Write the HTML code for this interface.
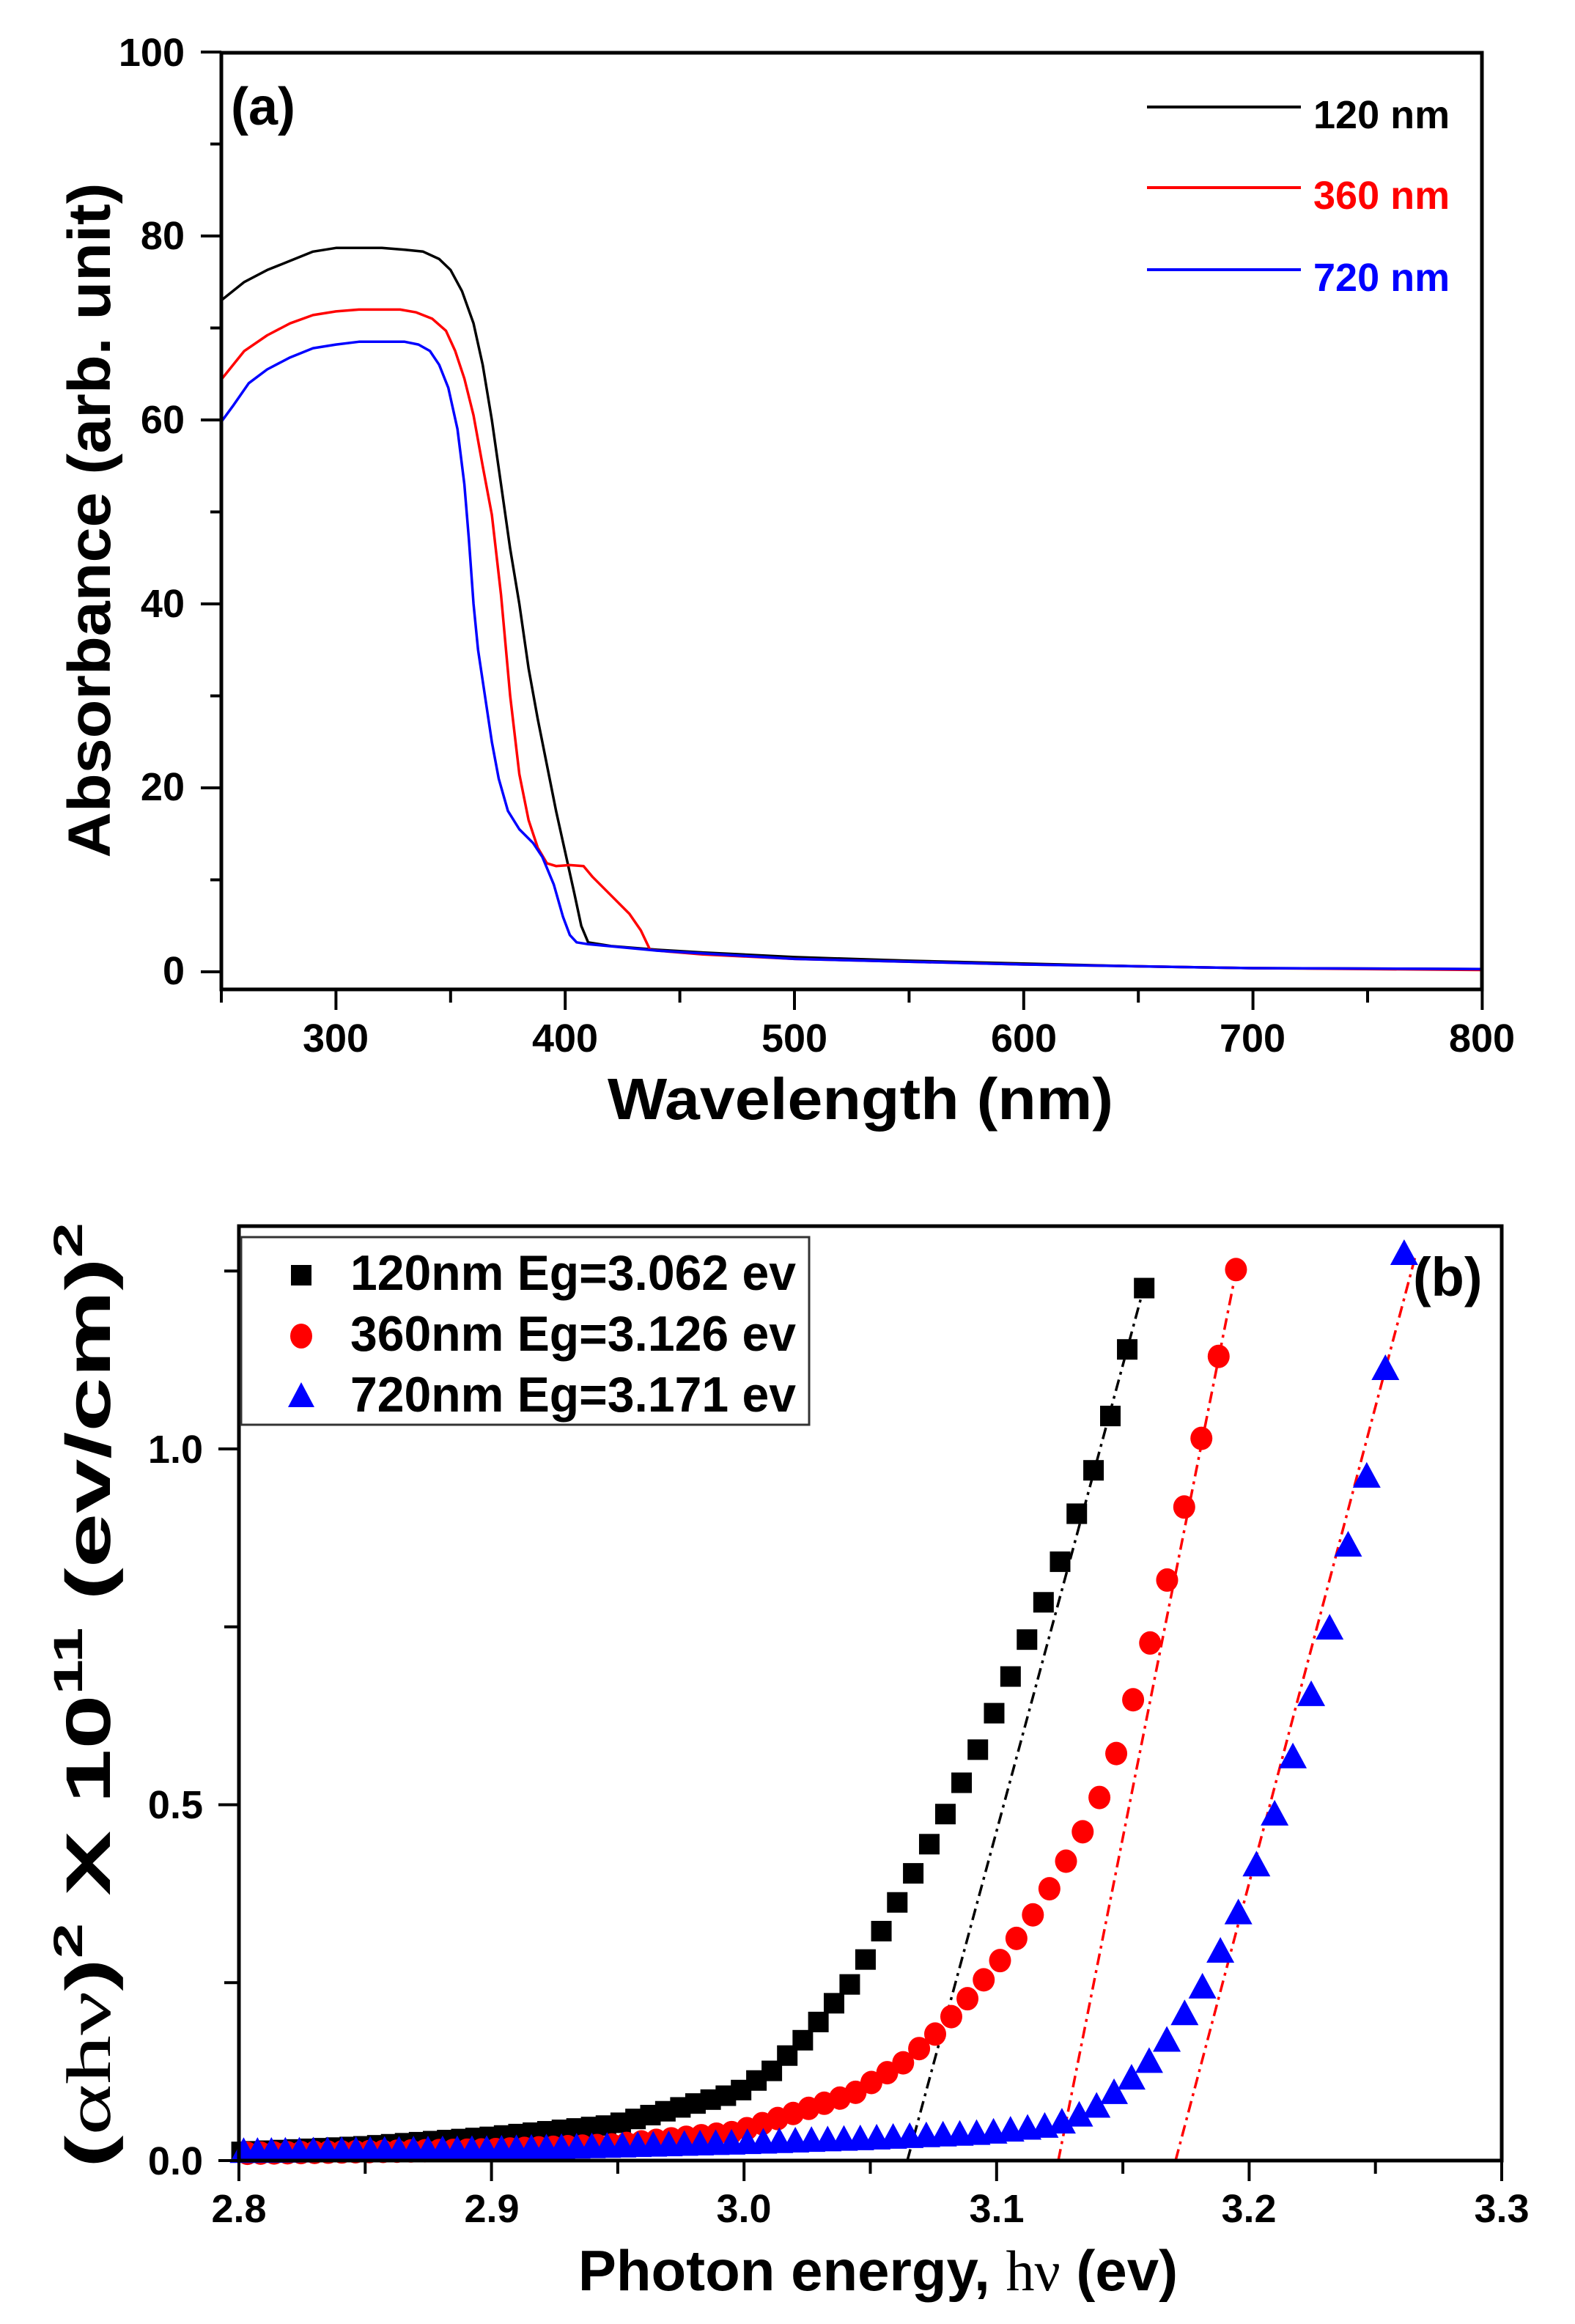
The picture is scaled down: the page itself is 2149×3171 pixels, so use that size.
<!DOCTYPE html>
<html><head><meta charset="utf-8">
<style>html,body{margin:0;padding:0;background:#fff}svg{display:block}</style>
</head><body>
<svg id="s" xmlns="http://www.w3.org/2000/svg" width="2149" height="3171" viewBox="0 0 2149 3171" font-family="'Liberation Sans', sans-serif" font-weight="bold">
<rect width="2149" height="3171" fill="#fff"/>
<!-- Panel a -->
<g id="ca" fill="none" stroke-width="3.5" stroke-linejoin="round"></g>
<rect x="302" y="72" width="1720" height="1278" fill="none" stroke="#000" stroke-width="5"/>
<g stroke="#000" stroke-width="4" id="ta"></g>
<g font-size="54" text-anchor="end">
<text x="252" y="90">100</text><text x="252" y="340">80</text><text x="252" y="591">60</text>
<text x="252" y="842">40</text><text x="252" y="1092">20</text><text x="252" y="1343">0</text>
</g>
<g font-size="54" text-anchor="middle">
<text x="458" y="1435">300</text><text x="771" y="1435">400</text><text x="1084" y="1435">500</text>
<text x="1397" y="1435">600</text><text x="1709" y="1435">700</text><text x="2022" y="1435">800</text>
</g>
<text x="315" y="170" font-size="72">(a)</text>
<g stroke-width="4"><line x1="1565" y1="146" x2="1775" y2="146" stroke="#000"/><line x1="1565" y1="256" x2="1775" y2="256" stroke="#f00"/><line x1="1565" y1="368" x2="1775" y2="368" stroke="#00f"/></g>
<g font-size="54"><text x="1792" y="175" fill="#000">120 nm</text><text x="1792" y="285" fill="#f00">360 nm</text><text x="1792" y="397" fill="#00f">720 nm</text></g>
<text transform="translate(150,710) rotate(-90)" text-anchor="middle" font-size="82" textLength="921" lengthAdjust="spacingAndGlyphs">Absorbance (arb. unit)</text>
<text x="829" y="1527" font-size="80" textLength="690" lengthAdjust="spacingAndGlyphs">Wavelength (nm)</text>

<!-- Panel b -->
<g id="fits" fill="none" stroke-width="3.5" stroke-dasharray="16 7 4 7">
<line x1="1238" y1="2948" x2="1562" y2="1752" stroke="#000"/>
<line x1="1444" y1="2948" x2="1688" y2="1727" stroke="#f00"/>
<line x1="1604" y1="2948" x2="1932" y2="1711" stroke="#f00"/>
</g>
<g id="mk"></g>
<rect x="326" y="1673" width="1723" height="1275" fill="none" stroke="#000" stroke-width="5"/>
<g stroke="#000" stroke-width="4" id="tb"></g>
<g font-size="54" text-anchor="end">
<text x="277" y="2967">0.0</text><text x="277" y="2481">0.5</text><text x="277" y="1996">1.0</text>
</g>
<g font-size="54" text-anchor="middle">
<text x="326" y="3032">2.8</text><text x="671" y="3032">2.9</text><text x="1015" y="3032">3.0</text>
<text x="1360" y="3032">3.1</text><text x="1704" y="3032">3.2</text><text x="2049" y="3032">3.3</text>
</g>
<rect x="329" y="1688" width="775" height="256" fill="#fff" stroke="#333" stroke-width="3"/>
<rect x="397" y="1726" width="28" height="28" fill="#000"/>
<ellipse cx="411" cy="1823" rx="15" ry="17" fill="#f00"/>
<polygon points="393,1920 429,1920 411,1886" fill="#00f"/>
<g font-size="68">
<text x="478" y="1760" textLength="608" lengthAdjust="spacingAndGlyphs">120nm Eg=3.062 ev</text>
<text x="478" y="1843" textLength="608" lengthAdjust="spacingAndGlyphs">360nm Eg=3.126 ev</text>
<text x="478" y="1926" textLength="608" lengthAdjust="spacingAndGlyphs">720nm Eg=3.171 ev</text>
</g>
<text x="1928" y="1768" font-size="74">(b)</text>
<text transform="translate(150,2313) rotate(-90)" text-anchor="middle" font-size="86" textLength="1290" lengthAdjust="spacingAndGlyphs">(<tspan font-family="'Liberation Serif', serif" font-weight="normal">αhν</tspan>)<tspan font-size="56" dy="-38">2</tspan><tspan dy="38"> X 10</tspan><tspan font-size="56" dy="-38">11</tspan><tspan dy="38"> (ev/cm)</tspan><tspan font-size="56" dy="-38">2</tspan></text>
<text x="1198" y="3125" text-anchor="middle" font-size="78">Photon energy, <tspan font-family="'Liberation Serif', serif" font-weight="normal">hν</tspan> (ev)</text>
</svg>
<script>
(function(){
var NS="http://www.w3.org/2000/svg";
function el(t,a,p){var e=document.createElementNS(NS,t);for(var k in a)e.setAttribute(k,a[k]);p.appendChild(e);return e;}
var X=function(w){return 302+(w-250)*3.128},Y=function(v){return 1326-12.55*v};
var black=[[250,73],[260,75],[270,76.3],[280,77.3],[290,78.3],[300,78.7],[320,78.7],[330,78.5],[338,78.3],[345,77.5],[350,76.3],[355,74],[360,70.5],[364,66],[368,60],[372,53],[376,46],[380,40],[384,33],[388,27.5],[392,22.5],[396,17.5],[400,13],[404,8.5],[407,5],[410,3.2],[420,2.8],[440,2.4],[460,2.1],[500,1.6],[550,1.2],[600,0.9],[650,0.6],[700,0.4],[800,0.3]];
var red=[[250,64.4],[260,67.5],[270,69.2],[280,70.5],[290,71.4],[300,71.8],[310,72.0],[328,72],[335,71.7],[342,71],[348,69.7],[352,67.5],[356,64.5],[360,60.5],[364,55],[368,49.7],[372,41],[376,30],[380,21.5],[384,16.5],[388,13.5],[392,11.8],[396,11.5],[402,11.6],[408,11.5],[412,10.3],[420,8.3],[428,6.3],[433,4.5],[437,2.4],[445,2.2],[460,1.9],[500,1.4],[550,1.1],[600,0.8],[700,0.4],[800,0.2]];
var blue=[[250,59.8],[255,61.5],[262,64],[270,65.5],[280,66.8],[290,67.8],[300,68.2],[310,68.5],[330,68.5],[336,68.2],[341,67.5],[345,66],[349,63.5],[353,59],[356,53],[358,47],[360,40],[362,35],[365,30],[368,25],[371,21],[375,17.5],[380,15.5],[386,14],[390,12.5],[395,9.5],[399,6],[402,4],[405,3.2],[410,3],[440,2.3],[500,1.4],[600,0.8],[700,0.4],[800,0.3]];
var ca=document.getElementById('ca');
[[black,'#000'],[red,'#f00'],[blue,'#00f']].forEach(function(s){
 var d=s[0].map(function(p,i){return (i?'L':'M')+X(p[0]).toFixed(1)+' '+Y(p[1]).toFixed(1)}).join('');
 el('path',{d:d,stroke:s[1]},ca);
});
var ta=document.getElementById('ta');
for(var v=0;v<=100;v+=10){var y=Y(v),L=(v%20==0)?28:15;el('line',{x1:302-L,y1:y,x2:302,y2:y},ta);}
for(var w=250;w<=800;w+=50){var x=X(w),L=(w%100==0)?28:18;el('line',{x1:x,y1:1350,x2:x,y2:1350+L},ta);}
var PX=function(E){return 326+(E-2.8)*3446},PY=function(v){return 2948-v*971};
var MX=function(E){return 326+(E-2.8)*3446*0.985};
var tb=document.getElementById('tb');
for(var i=0;i<=5;i++){var yy=PY(i*0.25);el('line',{x1:326-(i%2?20:28),y1:yy,x2:326,y2:yy},tb);}
for(var j=0;j<=10;j++){var xx=PX(2.8+j*0.05);el('line',{x1:xx,y1:2948,x2:xx,y2:2948+(j%2?18:28)},tb);}
function interp(t,E){if(E<=t[0][0])return t[0][1];for(var k=1;k<t.length;k++){if(E<=t[k][0]){var a=t[k-1],b=t[k];return a[1]+(b[1]-a[1])*(E-a[0])/(b[0]-a[0]);}}return t[t.length-1][1];}
var sq=[[2.8,0.012],[2.85,0.02],[2.9,0.033],[2.95,0.05],[3.0,0.095],[3.0142,0.126],[3.0275,0.172],[3.0478,0.257],[3.0609,0.339],[3.0812,0.468],[3.0948,0.56],[3.1076,0.66],[3.1215,0.769],[3.1285,0.825],[3.1358,0.9],[3.143,0.964],[3.1497,1.038],[3.1567,1.135],[3.1639,1.226]];
var ci=[[2.8,0.01],[2.9,0.015],[2.95,0.022],[3.0,0.04],[3.047,0.094],[3.0673,0.138],[3.0806,0.18],[3.0943,0.233],[3.1079,0.289],[3.1215,0.357],[3.1358,0.44],[3.143,0.487],[3.15,0.543],[3.1569,0.618],[3.1639,0.699],[3.1711,0.785],[3.1787,0.901],[3.1857,0.995],[3.1932,1.119],[3.2008,1.252]];
var tr=[[2.8,0.012],[2.9,0.015],[3.0,0.024],[3.05,0.03],[3.1,0.038],[3.1276,0.049],[3.1427,0.07],[3.1558,0.106],[3.163,0.128],[3.1709,0.157],[3.1781,0.196],[3.1857,0.232],[3.1929,0.282],[3.2005,0.336],[3.2077,0.402],[3.2153,0.475],[3.2231,0.56],[3.2303,0.645],[3.2379,0.739],[3.2454,0.858],[3.2533,0.96],[3.2608,1.111],[3.2684,1.274]];
var mk=document.getElementById('mk');
function series(t,c,draw){var E=t[t.length-1][0];var pts=[];while(E>=2.8){pts.push(E);E-=c*E*E;}pts.reverse().forEach(function(e){draw(MX(e),PY(interp(t,e)));});}
series(sq,0.000681,function(x,y){el('rect',{x:x-14,y:y-14,width:28,height:28,fill:'#000'},mk);});
series(ci,0.00068,function(x,y){el('ellipse',{cx:x,cy:y,rx:15,ry:16,fill:'#f00'},mk);});
series(tr,0.000706,function(x,y){el('polygon',{points:(x-19)+','+(y+15)+' '+(x+19)+','+(y+15)+' '+x+','+(y-20),fill:'#00f'},mk);});
})();
</script>
</body></html>
